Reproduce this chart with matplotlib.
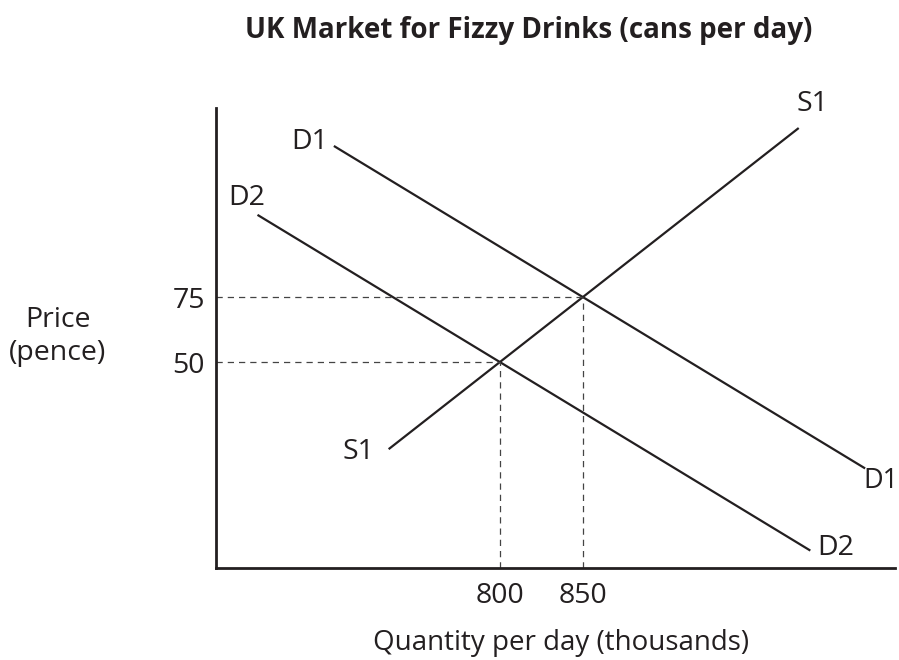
import numpy as np
import matplotlib
matplotlib.use('Agg')
import matplotlib.pyplot as plt

plt.rcParams['font.family'] = ['Open Sans', 'DejaVu Sans']

## curve end points (quantity in thousands, price in pence)
d1_q = [700, 1020]
d1_p = [133.1, 9.1]
d2_q = [654, 987]
d2_p = [106.6, -22.5]
s1_q = [733, 980]
s1_p = [16.5, 140]

## equilibria
eq_q = [800, 850]
eq_p = [50, 75]
x_ticks = [800, 850]
y_ticks = [50, 75]

W, H = 899, 660
fig = plt.figure(figsize=(W/100, H/100), dpi=100)
# axes box (pixels)
ax = fig.add_axes([216/W, (H-568)/H, (895-216)/W, (568-108)/H])
ax.set_xlim(629, 1038)
ax.set_ylim(-29.2, 147.7)

for s in ['top', 'right']:
    ax.spines[s].set_visible(False)
for s in ['left', 'bottom']:
    ax.spines[s].set_linewidth(2.0)
    ax.spines[s].set_color('#231f20')

lc = '#231f20'
ax.plot(d1_q, d1_p, color=lc, lw=1.6, solid_capstyle='butt')
ax.plot(d2_q, d2_p, color=lc, lw=1.6, solid_capstyle='butt')
ax.plot(s1_q, s1_p, color=lc, lw=1.6, solid_capstyle='butt')

x0, _ = ax.get_xlim()
y0, _ = ax.get_ylim()
for q, p in zip(eq_q, eq_p):
    ax.plot([x0, q], [p, p], color='#444444', lw=0.9, dashes=(5, 4))
    ax.plot([q, q], [y0, p], color='#444444', lw=0.9, dashes=(5, 4))

fs = 20.5
ax.set_xticks(x_ticks)
ax.set_yticks(y_ticks)
ax.tick_params(length=0, labelsize=fs, colors='#231f20')
ax.tick_params(axis='x', pad=10)
ax.tick_params(axis='y', pad=8)

def lab(txt, q, p, dx, dy, ha, size=fs):
    ax.annotate(txt, (q, p), xytext=(dx, dy), textcoords='offset points',
                ha=ha, va='center', fontsize=size, color=lc, annotation_clip=False)

lab('D1', d1_q[0], d1_p[0], -4, 3, 'right')
lab('D2', d2_q[0], d2_p[0], -8, 12, 'center')
lab('S1', s1_q[0], s1_p[0], -10, -2, 'right')
lab('S1', s1_q[1], s1_p[1], 10, 17, 'center')
lab('D1', d1_q[1], d1_p[1], -1, -9, 'left', 19.5)
lab('D2', d2_q[1], d2_p[1], 5, 2, 'left')

fig.text(529/W, 1-38/H, 'UK Market for Fizzy Drinks (cans per day)', ha='center', va='baseline',
         fontsize=20, fontweight='bold', color=lc)
fig.text(561/W, 1-650/H, 'Quantity per day (thousands)', ha='center', va='baseline', fontsize=20, color=lc)
fig.text(58/W, 1-327/H, 'Price', ha='center', va='baseline', fontsize=fs, color=lc)
fig.text(58/W, 1-360/H, '(pence)', ha='center', va='baseline', fontsize=fs, color=lc)

plt.savefig('out.png', dpi=100)
